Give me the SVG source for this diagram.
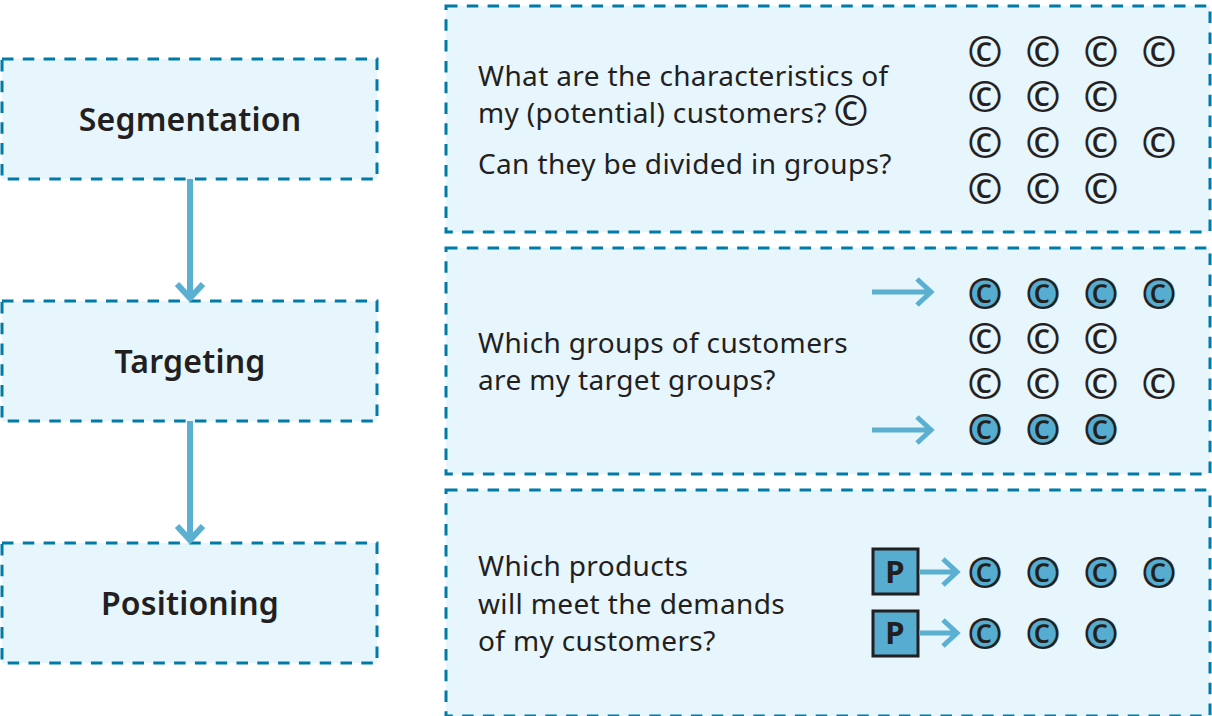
<svg xmlns="http://www.w3.org/2000/svg" width="1212" height="716" viewBox="0 0 1212 716">
<style>
.box{fill:#e7f5fc;stroke:#007ba7;stroke-width:3;stroke-dasharray:11.5 9.3}
.h{font:600 32px "Noto Sans",sans-serif;letter-spacing:.2px;fill:#231f20;text-anchor:middle}
.t{font:400 28px "Noto Sans",sans-serif;letter-spacing:.36px;fill:#231f20}
.c{font:400 42px "Noto Sans",sans-serif;fill:#231f20;stroke:#231f20;stroke-width:.2;text-anchor:middle}
.i{font:400 42px "Noto Sans",sans-serif;fill:#231f20;text-anchor:middle}
.f{fill:#56add0}
.a{fill:none;stroke:#5bb0d2;stroke-width:5}
.m{fill:none;stroke:#5bb0d2;stroke-width:6}
.p{fill:#56add0;stroke:#231f20;stroke-width:3}
.pt{font:700 31px "Noto Sans",sans-serif;fill:#231f20;text-anchor:middle}
</style>
<defs>
<g id="c"><text class="c" x="0" y="15">©</text></g>
<g id="d"><circle class="f" r="15"/><use href="#c"/></g>
</defs>
<g id="segmentation"><rect class="box" x="2" y="59" width="375" height="120"/><text class="h" x="190" y="131">Segmentation</text></g>
<g id="targeting"><rect class="box" x="2" y="301" width="375" height="120"/><text class="h" x="190" y="373">Targeting</text></g>
<g id="positioning"><rect class="box" x="2" y="543" width="375" height="120"/><text class="h" x="190" y="615">Positioning</text></g>
<g id="panel1"><rect class="box" x="446" y="6" width="764" height="226"/>
<text class="t" x="478" y="86">What are the characteristics of</text>
<text class="t" x="478" y="123">my (potential) customers?</text>
<text class="i" x="851" y="126">©</text>
<text class="t" x="478" y="174">Can they be divided in groups?</text>
<use href="#c" x="985" y="52"/><use href="#c" x="1043" y="52"/><use href="#c" x="1101" y="52"/><use href="#c" x="1159" y="52"/>
<use href="#c" x="985" y="97"/><use href="#c" x="1043" y="97"/><use href="#c" x="1101" y="97"/>
<use href="#c" x="985" y="143"/><use href="#c" x="1043" y="143"/><use href="#c" x="1101" y="143"/><use href="#c" x="1159" y="143"/>
<use href="#c" x="985" y="189"/><use href="#c" x="1043" y="189"/><use href="#c" x="1101" y="189"/>
</g>
<g id="panel2"><rect class="box" x="446" y="248" width="764" height="226"/>
<text class="t" x="478" y="353">Which groups of customers</text>
<text class="t" x="478" y="390">are my target groups?</text>
<use href="#d" x="985" y="294"/><use href="#d" x="1043" y="294"/><use href="#d" x="1101" y="294"/><use href="#d" x="1159" y="294"/>
<use href="#c" x="985" y="339"/><use href="#c" x="1043" y="339"/><use href="#c" x="1101" y="339"/>
<use href="#c" x="985" y="384"/><use href="#c" x="1043" y="384"/><use href="#c" x="1101" y="384"/><use href="#c" x="1159" y="384"/>
<use href="#d" x="985" y="430"/><use href="#d" x="1043" y="430"/><use href="#d" x="1101" y="430"/>
</g>
<g id="panel3"><rect class="box" x="446" y="490" width="764" height="226"/>
<text class="t" x="478" y="576">Which products</text>
<text class="t" x="478" y="614">will meet the demands</text>
<text class="t" x="478" y="651">of my customers?</text>
<use href="#d" x="985" y="573"/><use href="#d" x="1043" y="573"/><use href="#d" x="1101" y="573"/><use href="#d" x="1159" y="573"/>
<use href="#d" x="985" y="634"/><use href="#d" x="1043" y="634"/><use href="#d" x="1101" y="634"/>
</g>
<g id="product1"><rect class="p" x="873" y="549" width="45" height="45"/><text class="pt" x="895" y="583">P</text></g>
<g id="product2"><rect class="p" x="873" y="611" width="45" height="45"/><text class="pt" x="895" y="644">P</text></g>
<g id="connectors">
<path class="m" d="M190 179V298M177 284L190 298L203 284"/>
<path class="m" d="M190 421V540M177 526L190 540L203 526"/>
<path class="a" d="M872 292H930M917 279L931 292L917 305"/>
<path class="a" d="M872 430H930M917 417L931 430L917 443"/>
<path class="a" d="M919 572H956M943 559L957 572L943 585"/>
<path class="a" d="M919 633H956M943 620L957 633L943 646"/>
</g>
</svg>
